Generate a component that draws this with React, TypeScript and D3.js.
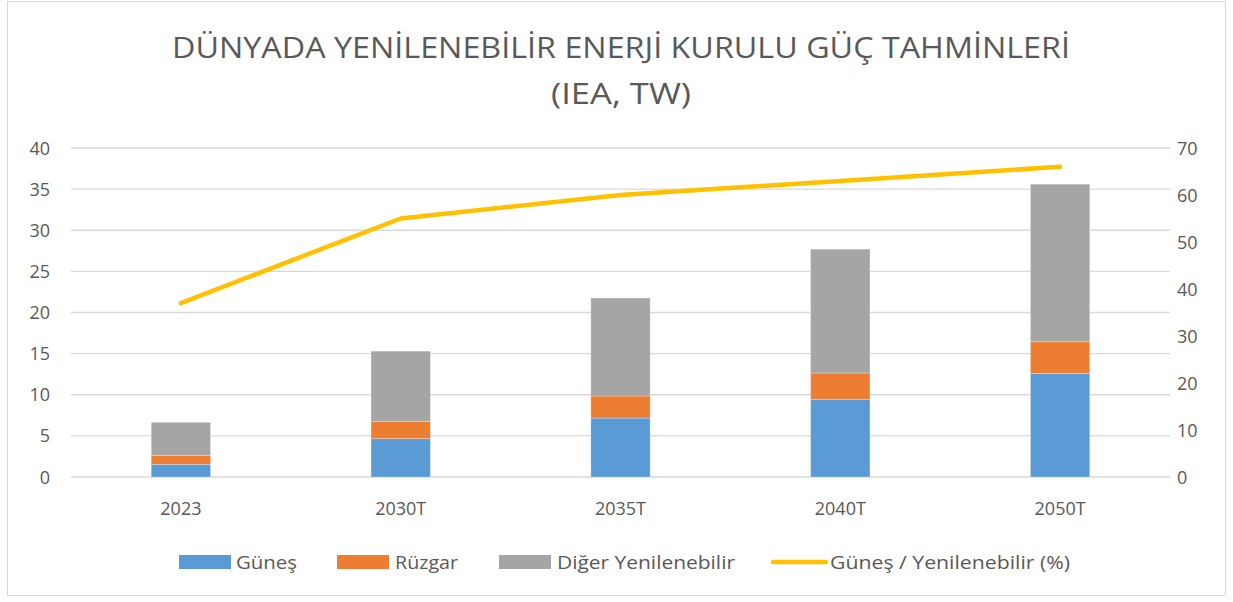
import React from "react";
import * as d3 from "d3";

const categories = ["2023", "2030T", "2035T", "2040T", "2050T"];
const gunes = [1.55, 4.66, 7.17, 9.45, 12.6];
const ruzgar = [1.05, 2.11, 2.68, 3.19, 3.85];
const diger = [4.05, 8.53, 11.91, 15.06, 19.15];
const gunesOrani = [37, 55, 60, 63, 66];
const leftTicks = [0, 5, 10, 15, 20, 25, 30, 35, 40];
const rightTicks = [0, 10, 20, 30, 40, 50, 60, 70];

const seriesNames = ["Güneş", "Rüzgar", "Diğer Yenilenebilir"];
const colors = ["#5B9BD5", "#ED7D31", "#A5A5A5"];
const lineName = "Güneş / Yenilenebilir (%)";
const lineColor = "#FFC000";

const W = 1233;
const H = 602;
const FONT = "'Open Sans', 'Noto Sans', sans-serif";
const TXT = "#595959";

export default function App() {
  const x = d3
    .scaleBand<string>()
    .domain(categories)
    .range([71, 1170])
    .paddingInner(0.73)
    .paddingOuter(0.365);
  const yL = d3.scaleLinear().domain([0, 40]).range([477, 148]);
  const yR = d3.scaleLinear().domain([0, 70]).range([477, 148]);

  const rows = categories.map((c, i) => ({ cat: c, g: gunes[i], r: ruzgar[i], d: diger[i] }));
  const stack = d3.stack<any>().keys(["g", "r", "d"])(rows);

  const line = d3
    .line<number>()
    .x((_, i) => (x(categories[i]) as number) + x.bandwidth() / 2)
    .y((v) => yR(v));

  const legendItems = [
    { sx: 179, tx: 236, tw: 61, label: seriesNames[0], color: colors[0], type: "rect" },
    { sx: 337, tx: 395, tw: 63, label: seriesNames[1], color: colors[1], type: "rect" },
    { sx: 499, tx: 557, tw: 178, label: seriesNames[2], color: colors[2], type: "rect" },
    { sx: 771, tx: 830, tw: 240, label: lineName, color: lineColor, type: "line" },
  ];

  return (
    <svg
      width={W}
      height={H}
      style={{ position: "absolute", left: 0, top: 0, background: "#fff" }}
      fontFamily={FONT}
    >
      <rect x={7.5} y={1.5} width={1218} height={594} fill="#fff" stroke="#d9d9d9" />
      <text x={621} y={58} textAnchor="middle" fontSize={29} fill={TXT} textLength={898} lengthAdjust="spacingAndGlyphs">
        DÜNYADA YENİLENEBİLİR ENERJİ KURULU GÜÇ TAHMİNLERİ
      </text>
      <text x={621} y={104} textAnchor="middle" fontSize={29} fill={TXT} textLength={140} lengthAdjust="spacingAndGlyphs">
        (IEA, TW)
      </text>

      {leftTicks.map((t) => (
        <g key={"g" + t}>
          <line x1={71} x2={1170} y1={yL(t)} y2={yL(t)} stroke="#d9d9d9" strokeWidth={1.3} />
          <text x={50} y={yL(t) + 6.5} textAnchor="end" fontSize={18} fill={TXT}>
            {t}
          </text>
        </g>
      ))}
      {rightTicks.map((t) => (
        <text key={"r" + t} x={1177} y={yR(t) + 6.5} textAnchor="start" fontSize={18} fill={TXT}>
          {t}
        </text>
      ))}

      {stack.map((s, si) => (
        <g key={"s" + si} fill={colors[si]}>
          {s.map((d, i) => (
            <rect
              key={i}
              x={x(categories[i])}
              width={x.bandwidth()}
              y={yL(d[1])}
              height={yL(d[0]) - yL(d[1])}
              stroke="#ffffff"
              strokeOpacity={0.35}
              strokeWidth={0.8}
            />
          ))}
        </g>
      ))}

      <path
        d={line(gunesOrani) || ""}
        fill="none"
        stroke={lineColor}
        strokeWidth={4.5}
        strokeLinecap="round"
        strokeLinejoin="round"
      />

      {categories.map((c) => (
        <text
          key={"x" + c}
          x={(x(c) as number) + x.bandwidth() / 2}
          y={514.5}
          textAnchor="middle"
          fontSize={18}
          fill={TXT}
        >
          {c}
        </text>
      ))}

      {legendItems.map((it, i) => (
        <g key={"l" + i}>
          {it.type === "rect" ? (
            <rect x={it.sx} y={555} width={52} height={14} fill={it.color} />
          ) : (
            <line x1={it.sx + 2} x2={it.sx + 55} y1={562} y2={562} stroke={it.color} strokeWidth={4.5} strokeLinecap="round" />
          )}
          <text x={it.tx} y={568.5} fontSize={18} fill={TXT} textLength={it.tw} lengthAdjust="spacingAndGlyphs">
            {it.label}
          </text>
        </g>
      ))}
    </svg>
  );
}
